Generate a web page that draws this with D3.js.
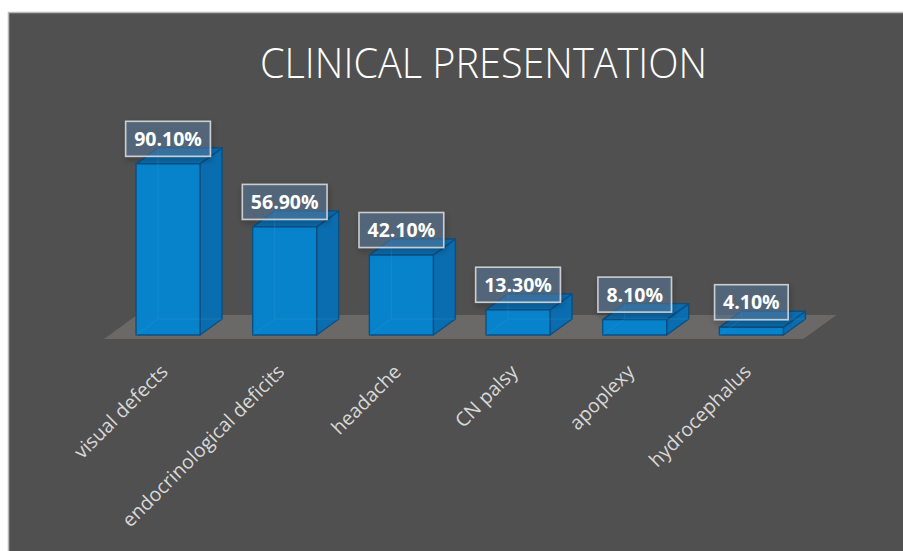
<!DOCTYPE html>
<html>
<head>
<meta charset="utf-8">
<script src="https://cdn.jsdelivr.net/npm/d3@7"></script>
<style>
  html, body { margin: 0; padding: 0; background: #ffffff; }
  svg { display: block; }
</style>
</head>
<body>
<svg id="chart" width="903" height="551"></svg>
<script>
'use strict';

const title = 'CLINICAL PRESENTATION';
const categories = ['visual defects', 'endocrinological deficits', 'headache', 'CN palsy', 'apoplexy', 'hydrocephalus'];
const values = [90.1, 56.9, 42.1, 13.3, 8.1, 4.1];
const valueLabels = ['90.10%', '56.90%', '42.10%', '13.30%', '8.10%', '4.10%'];

(function () {
  const W = 903, H = 551;
  const svg = d3.select('#chart');

  // depth of the 3D effect
  const dx = 22, dy = -16;
  const floorDx = 33, floorDy = -24;

  // chart area
  svg.append('rect')
    .attr('x', 8).attr('y', 12)
    .attr('width', W - 8).attr('height', H - 12)
    .attr('fill', '#505050');
  svg.append('path')
    .attr('d', `M8.5,${H} V12.5 H${W}`)
    .attr('fill', 'none')
    .attr('stroke', '#b8b8b8')
    .attr('stroke-width', 1.5);

  const defs = svg.append('defs');
  const f = defs.append('filter').attr('id', 'shadow')
    .attr('x', '-20%').attr('y', '-30%').attr('width', '140%').attr('height', '170%');
  f.append('feDropShadow')
    .attr('dx', 1).attr('dy', 3).attr('stdDeviation', 3)
    .attr('flood-color', '#000').attr('flood-opacity', 0.35);

  svg.append('text')
    .attr('x', 483.5).attr('y', 78)
    .attr('text-anchor', 'middle')
    .attr('font-family', '"Open Sans", sans-serif')
    .attr('font-weight', 300)
    .attr('font-size', 43)
    .attr('fill', '#ffffff')
    .attr('textLength', 447)
    .attr('lengthAdjust', 'spacingAndGlyphs')
    .text(title);

  const x = d3.scaleBand()
    .domain(categories)
    .range([110, 809.4])
    .paddingInner(0.4514)
    .paddingOuter(0.223);

  const y = d3.scaleLinear().domain([0, 100]).range([335, 145]);

  const y0 = y(0);
  const floorFront = y0 + 4;
  const xl = x.range()[0] - 6, xr = x.range()[1] - 6;

  // floor
  svg.append('path')
    .attr('d', `M${xl},${floorFront} L${xr},${floorFront} L${xr + floorDx},${floorFront + floorDy} L${xl + floorDx},${floorFront + floorDy} Z`)
    .attr('fill', '#6a6968');

  const data = categories.map((c, i) => ({ cat: c, value: values[i], label: valueLabels[i] }));
  const bw = x.bandwidth();

  const bars = svg.append('g')
    .selectAll('g')
    .data(data)
    .join('g')
    .attr('stroke', '#0d4f80')
    .attr('stroke-width', 1.4)
    .attr('stroke-linejoin', 'round');

  // side face
  bars.append('path')
    .attr('d', (d) => {
      const x1 = x(d.cat) + bw, t = y(d.value);
      return `M${x1},${y0} L${x1 + dx},${y0 + dy} L${x1 + dx},${t + dy} L${x1},${t} Z`;
    })
    .attr('fill', '#0a6db0');

  // top face
  bars.append('path')
    .attr('d', (d) => {
      const x0 = x(d.cat), t = y(d.value);
      return `M${x0},${t} L${x0 + bw},${t} L${x0 + bw + dx},${t + dy} L${x0 + dx},${t + dy} Z`;
    })
    .attr('fill', '#0b6cae');

  // front face
  bars.append('rect')
    .attr('x', (d) => x(d.cat))
    .attr('y', (d) => y(d.value))
    .attr('width', bw)
    .attr('height', (d) => y0 - y(d.value))
    .attr('fill', '#0783cc');

  // faint hidden edges
  bars.append('path')
    .attr('d', (d) => {
      const x0 = x(d.cat), t = y(d.value);
      return `M${x0},${y0} L${x0 + dx},${y0 + dy} L${x0 + bw + dx},${y0 + dy} M${x0 + dx},${y0 + dy} L${x0 + dx},${t + dy}`;
    })
    .attr('fill', 'none')
    .attr('stroke', '#2a95d8')
    .attr('stroke-opacity', 0.35)
    .attr('stroke-width', 1);

  // value labels
  const labels = svg.append('g')
    .selectAll('g')
    .data(data)
    .join('g')
    .attr('transform', (d) => `translate(${x(d.cat) + bw / 2},${y(d.value) - 25})`);

  const labelText = labels.append('text')
    .attr('text-anchor', 'middle')
    .attr('dy', '0.36em')
    .attr('font-family', '"Open Sans", sans-serif')
    .attr('font-weight', 700)
    .attr('font-size', 19.5)
    .attr('fill', '#ffffff')
    .text((d) => d.label);

  labelText.each(function () {
    const bb = this.getBBox();
    const w = bb.width + 17;
    d3.select(this.parentNode).insert('rect', 'text')
      .attr('x', -w / 2).attr('y', -17.5)
      .attr('width', w).attr('height', 35)
      .attr('fill', 'rgba(90,125,160,0.5)')
      .attr('stroke', '#c9ccd0')
      .attr('stroke-width', 1.6)
      .attr('filter', 'url(#shadow)');
  });

  // category labels
  svg.append('g')
    .selectAll('text')
    .data(categories)
    .join('text')
    .attr('transform', (d) => `translate(${x(d) + bw / 2 + 1},${373}) rotate(-45)`)
    .attr('text-anchor', 'end')
    .attr('font-family', '"Open Sans", sans-serif')
    .attr('font-size', 19.5)
    .attr('fill', '#d9d9d9')
    .text((d) => d);
})();
</script>
</body>
</html>
